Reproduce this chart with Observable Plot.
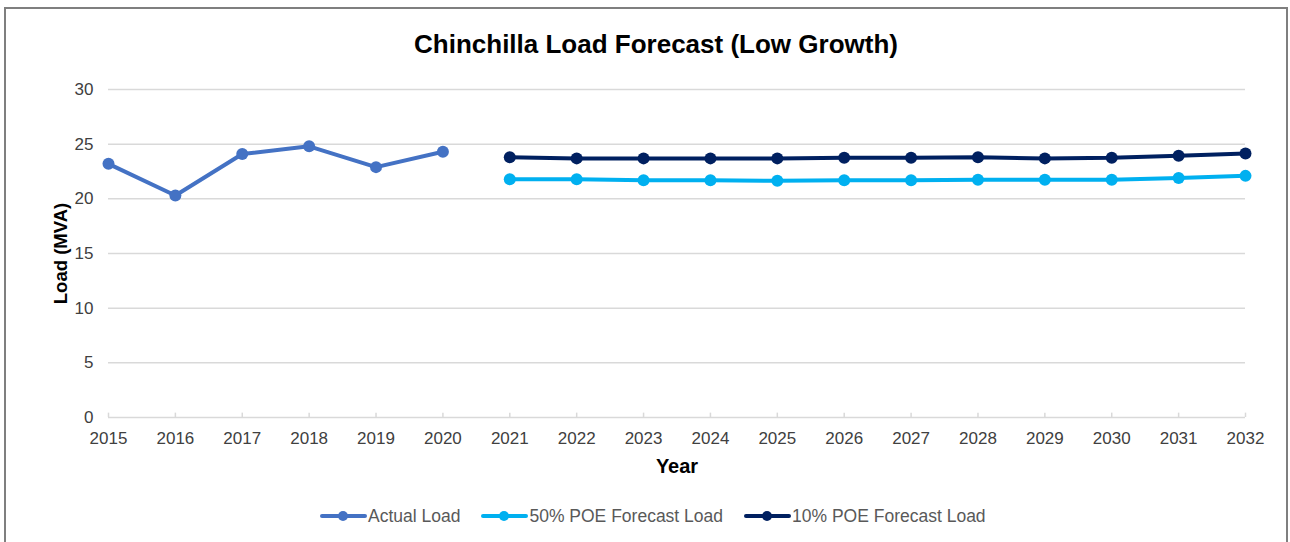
<!DOCTYPE html>
<html>
<head>
<meta charset="utf-8">
<script src="https://cdn.jsdelivr.net/npm/d3@7"></script>
<script src="https://cdn.jsdelivr.net/npm/@observablehq/plot@0.6"></script>
<style>
  html, body { margin: 0; padding: 0; background: #fff; overflow: hidden; }
  body { width: 1290px; height: 542px; position: relative; font-family: "Liberation Sans", Arial, sans-serif; }
  #frame { position: absolute; left: 4px; top: 7px; width: 1284px; height: 600px; border: 2px solid #7f7f7f; box-sizing: border-box; }
  #title { position: absolute; left: 256px; width: 800px; top: 31px; line-height: 26px; text-align: center; font-size: 26px; font-weight: bold; color: #000; }
  #chart { position: absolute; left: 0; top: 0; }
  #legend { position: absolute; top: 506px; left: 320px; height: 20px; display: flex; align-items: center; font-size: 17.5px; color: #595959; }
  #legend .item { display: flex; align-items: center; margin-right: 21px; }
  #legend svg { display: block; margin-right: 1px; }
</style>
</head>
<body>
<div id="frame"></div>
<div id="title">Chinchilla Load Forecast (Low Growth)</div>
<div id="chart"></div>
<div id="legend"></div>
<script>
// Year axis ticks and load axis ticks
const years = [2015, 2016, 2017, 2018, 2019, 2020, 2021, 2022, 2023, 2024, 2025, 2026, 2027, 2028, 2029, 2030, 2031, 2032];
const loadTicks = [0, 5, 10, 15, 20, 25, 30];

// Measured peak load (MVA)
const actualYears = [2015, 2016, 2017, 2018, 2019, 2020];
const actualLoad = [23.2, 20.3, 24.1, 24.8, 22.9, 24.3];

// Forecast peak load (MVA)
const forecastYears = [2021, 2022, 2023, 2024, 2025, 2026, 2027, 2028, 2029, 2030, 2031, 2032];
const poe50Load = [21.8, 21.8, 21.7, 21.7, 21.65, 21.7, 21.7, 21.75, 21.75, 21.75, 21.9, 22.1];
const poe10Load = [23.8, 23.7, 23.7, 23.7, 23.7, 23.75, 23.75, 23.8, 23.7, 23.75, 23.95, 24.15];

const seriesNames = ["Actual Load", "50% POE Forecast Load", "10% POE Forecast Load"];
const seriesColors = ["#4472C4", "#00B0F0", "#002060"];

const rows = [
  ...actualYears.map((year, i) => ({ year, load: actualLoad[i], series: seriesNames[0] })),
  ...forecastYears.map((year, i) => ({ year, load: poe50Load[i], series: seriesNames[1] })),
  ...forecastYears.map((year, i) => ({ year, load: poe10Load[i], series: seriesNames[2] }))
];

const colorOf = Object.fromEntries(seriesNames.map((s, i) => [s, seriesColors[i]]));

const chart = Plot.plot({
  width: 1290,
  height: 490,
  marginLeft: 108,
  marginRight: 45,
  marginTop: 89,
  marginBottom: 73,
  style: { fontFamily: "'Liberation Sans', Arial, sans-serif", fontSize: "17px", color: "#404040", background: "transparent" },
  x: { domain: [2015, 2032] },
  y: { domain: [0, 30] },
  marks: [
    Plot.ruleY(loadTicks, { y: d => d, stroke: "#d9d9d9", strokeWidth: 1.5 }),
    Plot.ruleX(years, { x: d => d, y1: 0, y2: 0.4, stroke: "#d9d9d9", strokeWidth: 1.5 }),
    Plot.axisX({ ticks: years, tickFormat: d => String(d), tickSize: 0, tickPadding: 14, label: null, fill: "#404040" }),
    Plot.axisY({ ticks: loadTicks, tickSize: 0, tickPadding: 15, label: null, fill: "#404040" }),
    Plot.text(["Year"], { frameAnchor: "bottom", dy: 55, fontWeight: "bold", fontSize: 20, fill: "#000" }),
    Plot.text(["Load (MVA)"], { frameAnchor: "left", textAnchor: "middle", dx: -47, rotate: -90, fontWeight: "bold", fontSize: 18.5, fill: "#000" }),
    Plot.line(rows, { x: "year", y: "load", z: "series", stroke: d => colorOf[d.series], strokeWidth: 4, curve: "linear" }),
    Plot.dot(rows, { x: "year", y: "load", fill: d => colorOf[d.series], r: 6 })
  ]
});
document.getElementById("chart").appendChild(chart);

// Legend below the plot
const legend = document.getElementById("legend");
seriesNames.forEach((name, i) => {
  const item = document.createElement("div");
  item.className = "item";
  item.innerHTML =
    `<svg width="47" height="14"><line x1="2" y1="7" x2="45" y2="7" stroke="${seriesColors[i]}" stroke-width="4" stroke-linecap="round"/>` +
    `<circle cx="23" cy="7" r="5" fill="${seriesColors[i]}"/></svg><span>${name}</span>`;
  legend.appendChild(item);
});
</script>
</body>
</html>
